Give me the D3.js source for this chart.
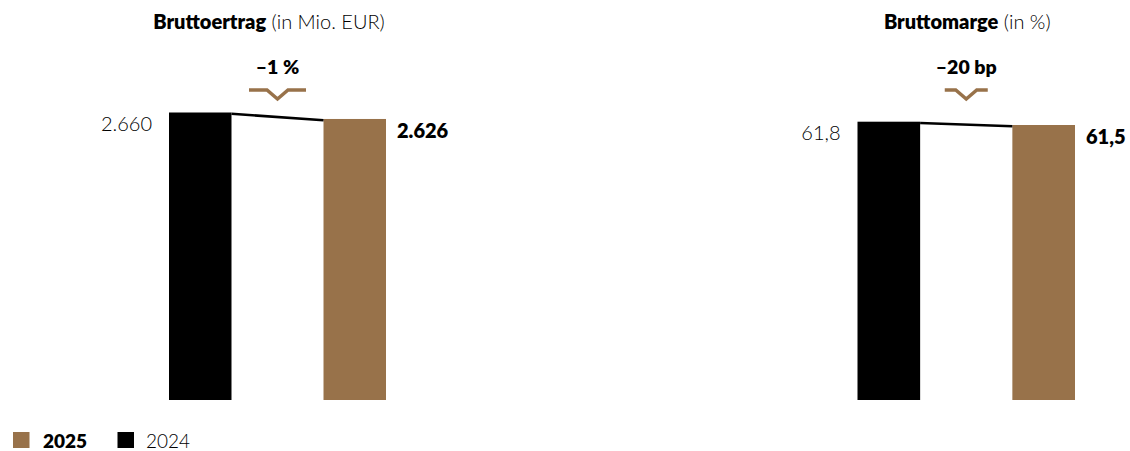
<!DOCTYPE html>
<html>
<head>
<meta charset="utf-8">
<script src="https://cdn.jsdelivr.net/npm/d3@7"></script>
<style>
  html, body { margin: 0; padding: 0; background: #fff; }
  svg { display: block; font-family: Lato, "Open Sans", sans-serif; }
</style>
</head>
<body>
<svg id="chart" width="1130" height="451"></svg>
<script>
// Years compared in each panel
const years = ["2024", "2025"];

// Gross profit (EUR million)
const grossProfit = [2660, 2626];
const grossProfitLabels = ["2.660", "2.626"];

// Gross margin (%)
const grossMargin = [61.8, 61.5];
const grossMarginLabels = ["61,8", "61,5"];

// Panel titles and change badges
const titlesBold = ["Bruttoertrag", "Bruttomarge"];
const titlesLight = [" (in Mio. EUR)", " (in %)"];
const changeLabels = ["\u20131 %", "\u201320 bp"];

// Legend entries
const legendYears = ["2025", "2024"];

const colors = { "2024": "#000000", "2025": "#98724A" };
const svg = d3.select("#chart");

const baseline = 400;
const panels = [
  { values: grossProfit, labels: grossProfitLabels, x0: 169, x1: 386, domainMin: 1150, top: 112.5, chevronW: 57, titleShift: -8.5 },
  { values: grossMargin, labels: grossMarginLabels, x0: 857.5, x1: 1075, domainMin: 36.5, top: 121.7, chevronW: 43, titleShift: 1 }
];

panels.forEach((p, i) => {
  const g = svg.append("g");
  const x = d3.scaleBand().domain(years).range([p.x0, p.x1]).paddingInner(0.5955).paddingOuter(0);
  const y = d3.scaleLinear().domain([p.domainMin, d3.max(p.values)]).range([baseline, p.top]);
  const data = years.map((yr, j) => ({ year: yr, value: p.values[j], label: p.labels[j] }));
  const cx = (x("2024") + x.bandwidth() + x("2025")) / 2;

  // Title: bold name plus light unit
  const title = g.append("text")
    .attr("x", cx + p.titleShift).attr("y", 29)
    .attr("text-anchor", "middle")
    .attr("font-size", 20)
    .attr("fill", "#000");
  title.append("tspan").attr("font-weight", 800).text(titlesBold[i]);
  title.append("tspan").attr("font-weight", 300).text(titlesLight[i]);

  // Change badge
  g.append("text")
    .attr("x", cx).attr("y", 74)
    .attr("text-anchor", "middle")
    .attr("font-size", 19.5)
    .attr("font-weight", 800)
    .attr("fill", "#000")
    .text(changeLabels[i]);

  const hw = p.chevronW / 2, vw = 10.5;
  g.append("path")
    .attr("d", `M${cx - hw},90 L${cx - vw},90 L${cx},99 L${cx + vw},90 L${cx + hw},90`)
    .attr("fill", "none")
    .attr("stroke", colors["2025"])
    .attr("stroke-width", 3.5)
    .attr("stroke-linejoin", "miter");

  // Bars
  g.selectAll("rect.bar").data(data).enter().append("rect")
    .attr("class", "bar")
    .attr("x", d => x(d.year))
    .attr("y", d => y(d.value))
    .attr("width", x.bandwidth())
    .attr("height", d => baseline - y(d.value))
    .attr("fill", d => colors[d.year]);

  // Connector between bar tops
  g.append("line")
    .attr("x1", x("2024") + x.bandwidth())
    .attr("y1", y(data[0].value) + 1.3)
    .attr("x2", x("2025"))
    .attr("y2", y(data[1].value) + 1.3)
    .attr("stroke", "#000")
    .attr("stroke-width", 2.6);

  // Value labels
  g.append("text")
    .attr("x", x("2024") - 17)
    .attr("y", y(data[0].value) + 18.5)
    .attr("text-anchor", "end")
    .attr("font-size", 20)
    .attr("font-weight", 300)
    .attr("fill", "#000")
    .text(data[0].label);
  g.append("text")
    .attr("x", x("2025") + x.bandwidth() + 11)
    .attr("y", y(data[1].value) + 19)
    .attr("text-anchor", "start")
    .attr("font-size", 20)
    .attr("font-weight", 800)
    .attr("fill", "#000")
    .text(data[1].label);
});

// Legend
const legend = svg.append("g");
const legendX = d3.scalePoint().domain(legendYears).range([13, 117.5]);
legendYears.forEach(yr => {
  legend.append("rect")
    .attr("x", legendX(yr)).attr("y", 432)
    .attr("width", 16.5).attr("height", 16)
    .attr("fill", colors[yr]);
  legend.append("text")
    .attr("x", legendX(yr) + (yr === "2025" ? 30 : 28.5))
    .attr("y", 447.5)
    .attr("font-size", 19)
    .attr("font-weight", yr === "2025" ? 800 : 300)
    .attr("fill", "#000")
    .text(yr);
});
</script>
</body>
</html>
